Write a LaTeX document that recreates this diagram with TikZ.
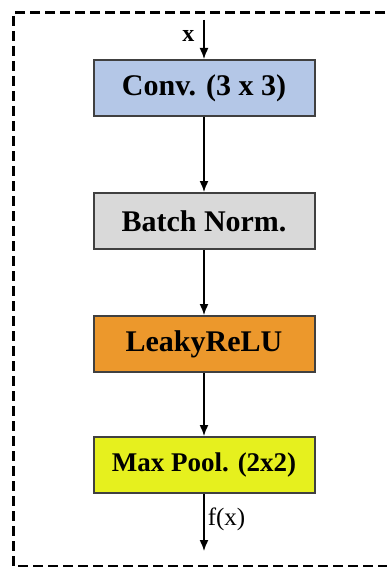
\documentclass[tikz,border=0pt]{standalone}
\usepackage{fontspec}
\setmainfont{Liberation Serif}
\usetikzlibrary{arrows.meta}
\definecolor{convblue}{RGB}{180,199,231}
\definecolor{normgray}{RGB}{217,217,217}
\definecolor{reluorange}{RGB}{236,152,44}
\definecolor{poolyellow}{RGB}{230,240,30}
\definecolor{boxborder}{RGB}{64,64,64}
\begin{document}
\begin{tikzpicture}[x=1pt, y=-1pt, >={Latex[length=11pt,width=9pt]}]
\tikzstyle{layer_style} = [rectangle, draw=boxborder, line width=2, minimum width=221, minimum height=56, inner sep=0, font=\fontsize{30}{36}\selectfont\bfseries]
\tikzstyle{edge_style} = [draw=black, line width=1.5, ->]
\useasboundingbox (0,0) rectangle (386,567);

% outer frame
\draw[line width=3, dash pattern=on 10pt off 5pt] (400,13) -- (13,13) -- (13,566) -- (400,566);

\node[layer_style, fill=convblue] (conv) at (204,88) {Conv. (3 x 3)};
\node[layer_style, fill=normgray] (bn) at (204,221) {Batch Norm.};
\node[layer_style, fill=reluorange] (relu) at (204,344) {LeakyReLU};
\node[layer_style, fill=poolyellow, font=\fontsize{27}{32}\selectfont\bfseries] (pool) at (204,465) {Max Pool. (2x2)};

\coordinate (in) at (204,20);
\coordinate (out) at (204,551);

\draw[edge_style] (in) -- node[left, pos=0.4, inner sep=9, font=\fontsize{24}{28}\selectfont\bfseries]{x} (conv);
\draw[edge_style] (conv) -- (bn);
\draw[edge_style] (bn) -- (relu);
\draw[edge_style] (relu) -- (pool);
\draw[edge_style] (pool) -- node[right, pos=0.45, font=\fontsize{25}{29}\selectfont, inner sep=3]{f(x)} (out);
\end{tikzpicture}
\end{document}
